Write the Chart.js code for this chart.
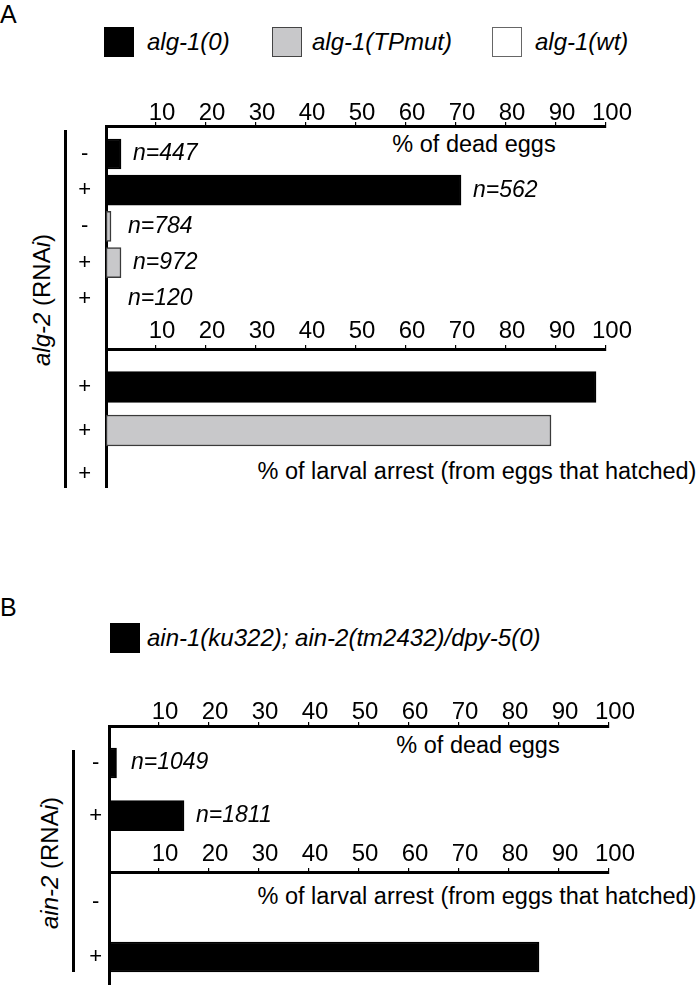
<!DOCTYPE html>
<html>
<head>
<meta charset="utf-8">
<script src="https://cdn.jsdelivr.net/npm/chart.js@4.4.1/dist/chart.umd.min.js"></script>
<style>
  body { margin: 0; background: #fff; }
  #fig { position: relative; width: 699px; height: 988px; overflow: hidden;
         font-family: Arial, 'Liberation Sans', sans-serif; color: #000; }
  #fig canvas { position: absolute; }
  .t { position: absolute; line-height: 1; white-space: nowrap; }
  .i { font-style: italic; }
  .c { transform: translate(-50%, -50%); }
  .l { transform: translateY(-50%); }
  .rot { transform: translate(-50%, -50%) rotate(-90deg); }
  .box { position: absolute; box-sizing: border-box; }
  .vline { position: absolute; width: 3px; background: #000; }
</style>
</head>
<body>
<div id="fig">
  <div class="t" style="left:0;top:2px;font-size:25px">A</div>

  <div class="box" style="left:104px;top:27px;width:30px;height:30px;background:#000"></div>
  <div class="t i l" style="left:147px;top:42px;font-size:24px">alg-1(0)</div>
  <div class="box" style="left:272px;top:27px;width:30px;height:30px;background:#c8c8ca;border:1.5px solid #444"></div>
  <div class="t i l" style="left:312px;top:42px;font-size:24px">alg-1(TPmut)</div>
  <div class="box" style="left:492px;top:27px;width:30px;height:30px;background:#fff;border:1.5px solid #666"></div>
  <div class="t i l" style="left:535px;top:42px;font-size:24px">alg-1(wt)</div>

  <div class="t c" style="left:474px;top:145px;font-size:23.5px">% of dead eggs</div>
  <div class="t c" style="left:477px;top:472px;font-size:23.5px">% of larval arrest (from eggs that hatched)</div>

  <div class="vline" style="left:64px;top:130px;height:358px"></div>
  <div class="t rot" style="left:42px;top:300px;font-size:24px"><i>alg-2</i> (RNA<i>i</i>)</div>

  <div class="t" style="left:0;top:595px;font-size:25px">B</div>
  <div class="box" style="left:110px;top:623px;width:30px;height:30px;background:#000"></div>
  <div class="t i l" style="left:147px;top:638px;font-size:24px">ain-1(ku322); ain-2(tm2432)/dpy-5(0)</div>

  <div class="t c" style="left:478px;top:746px;font-size:23.5px">% of dead eggs</div>
  <div class="t c" style="left:477px;top:897px;font-size:23.5px">% of larval arrest (from eggs that hatched)</div>

  <div class="vline" style="left:72px;top:750px;height:222px"></div>
  <div class="t rot" style="left:50px;top:863px;font-size:24px"><i>ain-2</i> (RNA<i>i</i>)</div>
</div>

<script>
// x axis tick labels (same for every panel)
const xTickLabels = [10, 20, 30, 40, 50, 60, 70, 80, 90, 100]

// strains, index used by the rows below
const strains = ['alg-1(0)', 'alg-1(TPmut)', 'alg-1(wt)']
const strainFill = ['#000000', '#c8c8ca', '#ffffff']
const strainEdge = ['#000000', '#3a3a3a', '#555555']

// panel A, % of dead eggs
const signsDeadA = ['-', '+', '-', '+', '+']
const strainDeadA = [0, 0, 1, 1, 2]
const valuesDeadA = [3, 71, 1, 3, 0]
const countsDeadA = ['n=447', 'n=562', 'n=784', 'n=972', 'n=120']

// panel A, % of larval arrest
const signsLarvalA = ['+', '+', '+']
const strainLarvalA = [0, 1, 2]
const valuesLarvalA = [98, 89, 0]

// panel B, % of dead eggs
const signsDeadB = ['-', '+']
const strainDeadB = [0, 0]
const valuesDeadB = [1.5, 15]
const countsDeadB = ['n=1049', 'n=1811']

// panel B, % of larval arrest
const signsLarvalB = ['-', '+']
const strainLarvalB = [0, 0]
const valuesLarvalB = [0, 86]

const nLabels = {
    id: 'nLabels',
    afterDatasetsDraw(chart, args, opts) {
        if (!opts.labels) return
        const ctx = chart.ctx
        const x0 = chart.scales.x.getPixelForValue(0)
        chart.getDatasetMeta(0).data.forEach((bar, i) => {
            if (!opts.labels[i]) return
            ctx.save()
            ctx.fillStyle = '#000'
            ctx.font = 'italic 23px Arial, "Liberation Sans", sans-serif'
            ctx.textBaseline = 'middle'
            ctx.fillText(opts.labels[i], Math.max(bar.x, x0 + 10) + 12, bar.y)
            ctx.restore()
        })
    }
}

const fig = document.getElementById('fig')
const yW = 45, xH = 36, padR = 34

function makePanel(p) {
    const plotW = p.right - p.zeroX
    const canvas = document.createElement('canvas')
    canvas.width = yW + plotW + padR
    canvas.height = xH + (p.bottom - p.axisY)
    canvas.style.left = (p.zeroX - yW) + 'px'
    canvas.style.top = (p.axisY - xH) + 'px'
    fig.appendChild(canvas)

    const yMin = -(p.row0 - p.axisY) / p.rowGap
    const yMax = yMin + (p.bottom - p.axisY) / p.rowGap

    new Chart(canvas.getContext('2d'), {
        type: 'bar',
        data: {
            datasets: [{
                data: p.values.map((v, i) => ({ x: v, y: i })),
                backgroundColor: p.strain.map(s => strainFill[s]),
                borderColor: p.strain.map(s => strainEdge[s]),
                borderWidth: 1.5,
                borderSkipped: false,
                barThickness: p.barThickness
            }]
        },
        options: {
            indexAxis: 'y',
            responsive: false,
            animation: false,
            devicePixelRatio: 1,
            layout: { padding: { right: padR, top: 0, left: 0, bottom: 0 } },
            plugins: {
                legend: { display: false },
                tooltip: { enabled: false },
                nLabels: { labels: p.counts }
            },
            scales: {
                x: {
                    type: 'linear',
                    position: 'top',
                    min: 0,
                    max: 100,
                    afterFit: s => { s.height = xH },
                    border: { color: '#000', width: 3 },
                    grid: { drawOnChartArea: false, color: '#000', lineWidth: 1.2, tickLength: 4 },
                    ticks: {
                        stepSize: 10,
                        autoSkip: false,
                        maxRotation: 0,
                        labelOffset: 6,
                        padding: p.tickPad,
                        color: '#000',
                        font: { family: '"Liberation Sans Narrow", "Arial Narrow", Arial, sans-serif', size: 24 },
                        callback: v => xTickLabels.includes(v) ? String(v) : null
                    }
                },
                y: {
                    type: 'linear',
                    reverse: true,
                    offset: false,
                    bounds: 'data',
                    min: yMin,
                    max: yMax,
                    // one tick per row, labelled with its RNAi sign
                    afterBuildTicks: s => { s.ticks = p.signs.map((_, i) => ({ value: i })) },
                    afterFit: s => { s.width = yW; s.paddingTop = 0; s.paddingBottom = 0 },
                    border: { color: '#000', width: 3 },
                    grid: { display: false, drawTicks: false },
                    ticks: {
                        autoSkip: false,
                        crossAlign: 'center',
                        padding: p.signPad,
                        color: '#000',
                        font: { family: 'Arial, "Liberation Sans", sans-serif', size: 22 },
                        callback: v => p.signs[v]
                    }
                }
            }
        },
        plugins: [nLabels]
    })
}

makePanel({ signs: signsDeadA, strain: strainDeadA, values: valuesDeadA, counts: countsDeadA,
    zeroX: 106, right: 606, axisY: 126, row0: 154, rowGap: 36.2, bottom: 349,
    barThickness: 30, tickPad: -6, signPad: 15 })
makePanel({ signs: signsLarvalA, strain: strainLarvalA, values: valuesLarvalA, counts: null,
    zeroX: 106, right: 606, axisY: 349, row0: 387, rowGap: 43.5, bottom: 488,
    barThickness: 31, tickPad: -1, signPad: 15 })
makePanel({ signs: signsDeadB, strain: strainDeadB, values: valuesDeadB, counts: countsDeadB,
    zeroX: 109, right: 609, axisY: 726, row0: 763, rowGap: 52.7, bottom: 872,
    barThickness: 30, tickPad: -5, signPad: 7 })
makePanel({ signs: signsLarvalB, strain: strainLarvalB, values: valuesLarvalB, counts: null,
    zeroX: 109, right: 609, axisY: 872, row0: 902, rowGap: 55, bottom: 985,
    barThickness: 30, tickPad: -1, signPad: 7 })
</script>
</body>
</html>
